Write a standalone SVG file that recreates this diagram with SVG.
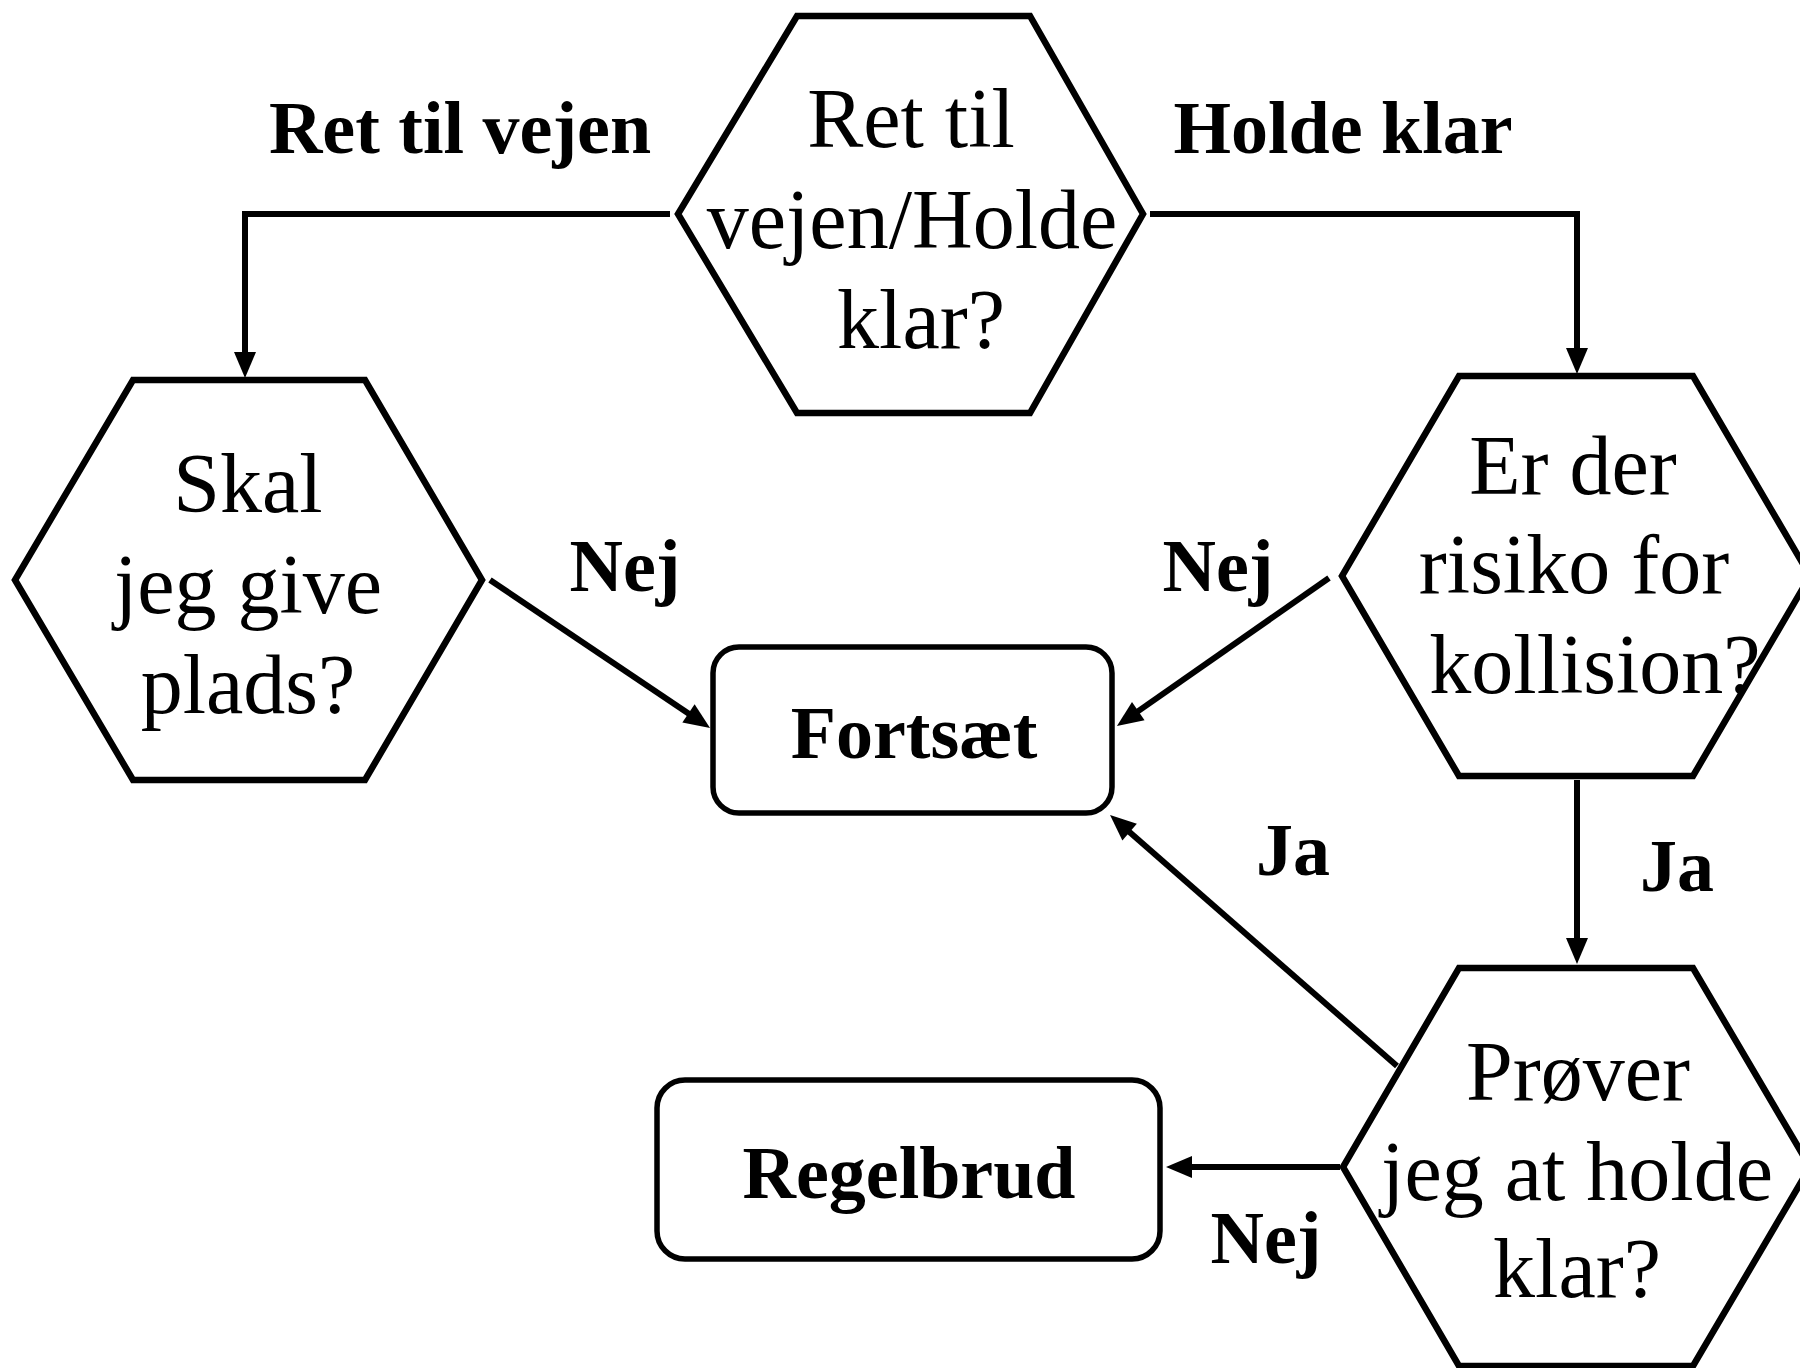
<svg xmlns="http://www.w3.org/2000/svg" width="1800" height="1368" viewBox="0 0 1800 1368">
<style>
.hex{fill:#fff;stroke:#000;stroke-width:6.5;stroke-linejoin:miter}
.box{fill:#fff;stroke:#000;stroke-width:5.5}
.q{font-family:"Liberation Serif","Times New Roman",serif;font-size:84px;text-anchor:middle;fill:#000}
.b{font-family:"Liberation Serif","Times New Roman",serif;font-size:74px;font-weight:bold;fill:#000}
.bc{text-anchor:middle}
.c{fill:none;stroke:#000;stroke-width:6}
</style>
<defs>
<marker id="ah" markerUnits="userSpaceOnUse" markerWidth="26" markerHeight="22" refX="4" refY="11" orient="auto" overflow="visible">
<path d="M0,0 L26,11 L0,22 z" fill="#000"/>
</marker>
</defs>
<rect width="1800" height="1368" fill="#fff"/>
<g id="connectors">
<path class="c" d="M670,214 H245 V356" marker-end="url(#ah)"/>
<path class="c" d="M1150,214 H1577 V352" marker-end="url(#ah)"/>
<path class="c" d="M490,580 L691.8,715.7" marker-end="url(#ah)"/>
<path class="c" d="M1329,578 L1135,713.4" marker-end="url(#ah)"/>
<path class="c" d="M1397,1066 L1126.6,829.5" marker-end="url(#ah)"/>
<path class="c" d="M1340,1167 H1188" marker-end="url(#ah)"/>
<path class="c" d="M1577,780 V942" marker-end="url(#ah)"/>
<text class="b bc" x="460" y="153">Ret til vejen</text>
<text class="b bc" x="1343" y="153">Holde klar</text>
<text class="b bc" x="625" y="591">Nej</text>
<text class="b bc" x="1218" y="591">Nej</text>
<text class="b bc" x="1293" y="875">Ja</text>
<text class="b bc" x="1677" y="891">Ja</text>
<text class="b bc" x="1266" y="1263">Nej</text>
</g>
<g id="node-top">
<polygon class="hex" points="797,16 1030,16 1143,214 1030,413 797,413 678,214"/>
<text class="q" x="911" y="147">Ret til</text>
<text class="q" x="912" y="248">vejen/Holde</text>
<text class="q" x="921" y="348">klar?</text>
</g>
<g id="node-skal">
<polygon class="hex" points="133,380 365,380 482,580 365,780 133,780 15,580"/>
<text class="q" x="248" y="512">Skal</text>
<text class="q" x="248" y="613">jeg give</text>
<text class="q" x="248" y="713">plads?</text>
</g>
<g id="node-risiko">
<polygon class="hex" points="1459,376 1693,376 1810,576 1693,776 1459,776 1342,576"/>
<text class="q" x="1573" y="494">Er der</text>
<text class="q" x="1574" y="593">risiko for</text>
<text class="q" x="1595" y="693">kollision?</text>
</g>
<g id="node-prover">
<polygon class="hex" points="1459,968 1693,968 1810,1167 1693,1366 1459,1366 1343,1167"/>
<text class="q" x="1578" y="1100">Prøver</text>
<text class="q" x="1577" y="1200">jeg at holde</text>
<text class="q" x="1577" y="1297">klar?</text>
</g>
<g id="node-fortsaet">
<rect class="box" x="713" y="647" width="399" height="166" rx="26" ry="26"/>
<text class="b bc" x="914" y="758">Fortsæt</text>
</g>
<g id="node-regelbrud">
<rect class="box" x="657" y="1080" width="503" height="179" rx="28" ry="28"/>
<text class="b bc" x="909" y="1198">Regelbrud</text>
</g>
</svg>
